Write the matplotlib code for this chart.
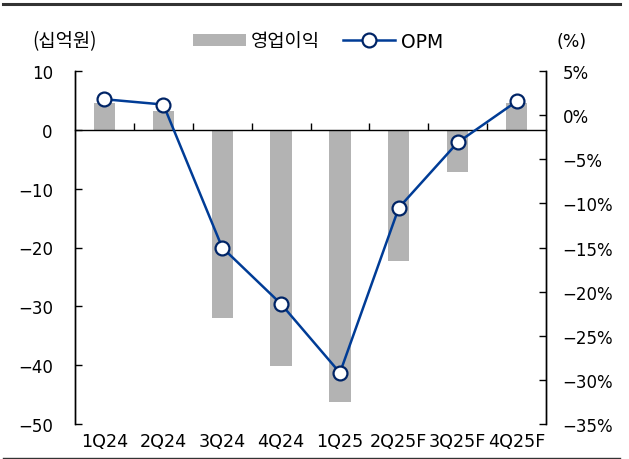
import matplotlib
matplotlib.use("Agg")
import matplotlib.pyplot as plt
import numpy as np
from matplotlib.lines import Line2D
from matplotlib.patches import Patch

plt.rcParams['font.family'] = ['DejaVu Sans', 'Noto Sans CJK KR']
plt.rcParams['axes.unicode_minus'] = True

categories = ['1Q24', '2Q24', '3Q24', '4Q24', '1Q25', '2Q25F', '3Q25F', '4Q25F']
op_profit = [4.5, 3.2, -31.9, -40.2, -46.2, -22.3, -7.2, 4.5]
opm = [1.8, 1.2, -15.0, -21.4, -29.2, -10.5, -3.1, 1.55]
left_ticks = [10, 0, -10, -20, -30, -40, -50]
right_ticks = [5, 0, -5, -10, -15, -20, -25, -30, -35]

bar_color = '#b3b3b3'
line_color = '#003c96'
edge_color = '#002466'
fs = 12

fig = plt.figure(figsize=(6.29, 4.60), dpi=100)
ax = fig.add_axes([75/629, 1-425/460, (546-75)/629, (425-72)/460])
ax2 = ax.twinx()

x = np.arange(len(categories))
ax.bar(x, op_profit, width=0.36, color=bar_color, zorder=2)
ax.set_xlim(-0.5, len(categories)-0.5)
ax.set_ylim(-50, 10)
ax.set_yticks(left_ticks)
ax.set_yticklabels([f'{v}' if v >= 0 else f'\u2212{-v}' for v in left_ticks])

ax2.plot(x, opm, color=line_color, lw=1.8, marker='o', ms=10,
         mfc='white', mec=edge_color, mew=1.6, zorder=5)
ax2.set_ylim(-35, 5)
ax2.set_yticks(right_ticks)
ax2.set_yticklabels([f'{v}%' if v >= 0 else f'\u2212{-v}%' for v in right_ticks])

for a in (ax, ax2):
    a.spines['top'].set_visible(False)
    a.spines['left'].set_linewidth(1.0)
    a.spines['right'].set_linewidth(1.0)
ax2.spines['bottom'].set_visible(False)
ax.spines['bottom'].set_position(('data', 0))
ax.spines['bottom'].set_linewidth(1.0)

ax.tick_params(axis='y', direction='in', length=5, width=1, pad=16, labelsize=fs, colors='black')
ax2.tick_params(axis='y', direction='in', length=5, width=1, pad=12, labelsize=fs, colors='black')

ax.set_xticks(x)
ax.set_xticklabels([])
ax.tick_params(axis='x', which='major', length=0)
ax.set_xticks(np.arange(0.5, len(categories)-1, 1), minor=True)
ax.tick_params(axis='x', which='minor', direction='in', length=5, width=1)

trans = matplotlib.transforms.blended_transform_factory(ax.transData, ax.transAxes)
for xi, lab in zip(x, categories):
    ax.text(xi, -0.048, lab, transform=trans, ha='center', va='center', fontsize=12.6)

ax.set_zorder(ax2.get_zorder() - 1)
ax.patch.set_visible(False)

fig.text(32/629, 1-42/460, '(십억원)', ha='left', va='center', fontsize=13.5,
         family=['Noto Sans CJK KR', 'DejaVu Sans'])
fig.text(587/629, 1-42/460, '(%)', ha='right', va='center', fontsize=12.5)

handles = [Patch(facecolor=bar_color, edgecolor='none'),
           Line2D([], [], color=line_color, lw=1.8, marker='o', ms=10,
                  mfc='white', mec=edge_color, mew=1.6)]
fig.legend(handles, ['영업이익', 'OPM'], loc='center', bbox_to_anchor=(318/629, 1-42/460),
           ncol=2, frameon=False, fontsize=13.5, handlelength=2.8, handleheight=0.55,
           handletextpad=0.3, columnspacing=1.2)

fig.add_artist(Line2D([3/629, 620/629], [1-5/460, 1-5/460], color='#333333', lw=2.2,
                      transform=fig.transFigure))
fig.add_artist(Line2D([3/629, 620/629], [1-458.5/460, 1-458.5/460], color='#333333', lw=1.0,
                      transform=fig.transFigure))

fig.savefig('out.png', dpi=100)
